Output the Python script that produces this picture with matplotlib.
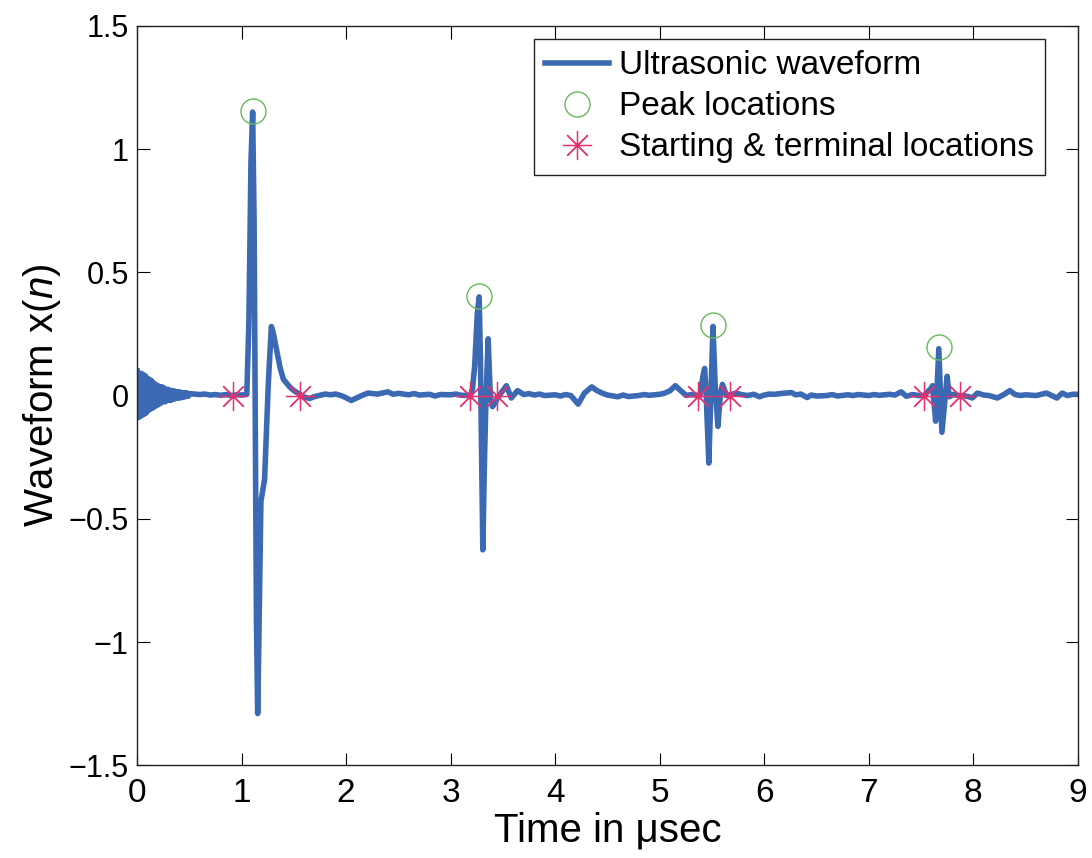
import numpy as np
import matplotlib
matplotlib.use('Agg')
import matplotlib.pyplot as plt

# ringing at the start of the record
ring_t = [0.00, 0.01, 0.02, 0.03, 0.04, 0.05, 0.06, 0.07, 0.08, 0.09,
          0.10, 0.11, 0.12, 0.13, 0.14, 0.15, 0.16, 0.17, 0.18, 0.19,
          0.20, 0.21, 0.22, 0.23, 0.24, 0.25, 0.26, 0.27, 0.28, 0.29,
          0.30, 0.31, 0.32, 0.33, 0.34, 0.35, 0.36, 0.37, 0.38, 0.39,
          0.40, 0.41, 0.42, 0.43, 0.44, 0.45, 0.46, 0.47, 0.48, 0.49, 0.50]
ring_x = [0.10, -0.09, 0.09, -0.085, 0.09, -0.08, 0.085, -0.075, 0.08, -0.07,
          0.07, -0.06, 0.065, -0.055, 0.06, -0.05, 0.05, -0.045, 0.045, -0.04,
          0.04, -0.035, 0.035, -0.03, 0.035, -0.025, 0.03, -0.025, 0.025, -0.02,
          0.025, -0.02, 0.02, -0.018, 0.02, -0.015, 0.018, -0.012, 0.016, -0.01,
          0.015, -0.01, 0.013, -0.008, 0.012, -0.006, 0.011, -0.004, 0.01, -0.003, 0.008]

# rest of the waveform
wave_t = [0.55, 0.60, 0.65, 0.70, 0.75, 0.80, 0.85, 0.90, 0.95, 1.00,
          1.05, 1.07, 1.09, 1.106, 1.12, 1.13, 1.142, 1.154, 1.165, 1.185,
          1.22, 1.256, 1.285, 1.30, 1.335, 1.37, 1.40, 1.46, 1.50, 1.55,
          1.60, 1.65, 1.70, 1.74, 1.80, 1.85, 1.90, 1.95, 1.98, 2.05,
          2.10, 2.15, 2.21, 2.30, 2.40, 2.45, 2.50, 2.60, 2.65, 2.70,
          2.80, 2.85, 2.90, 3.00, 3.05, 3.10, 3.19, 3.21, 3.23, 3.255,
          3.273, 3.285, 3.292, 3.308, 3.322, 3.337, 3.359, 3.372, 3.38, 3.40,
          3.425, 3.45, 3.49, 3.534, 3.58, 3.64, 3.70, 3.75, 3.80, 3.85,
          3.90, 4.00, 4.05, 4.10, 4.15, 4.22, 4.28, 4.35, 4.40, 4.45,
          4.50, 4.60, 4.65, 4.70, 4.80, 4.85, 4.90, 5.00, 5.05, 5.10,
          5.15, 5.20, 5.255, 5.30, 5.385, 5.414, 5.43, 5.445, 5.47, 5.49,
          5.51, 5.53, 5.557, 5.58, 5.60, 5.64, 5.70, 5.73, 5.78, 5.84,
          5.90, 5.955, 6.00, 6.05, 6.10, 6.18, 6.26, 6.30, 6.35, 6.41,
          6.45, 6.50, 6.60, 6.65, 6.70, 6.80, 6.85, 6.90, 7.00, 7.05,
          7.10, 7.20, 7.25, 7.31, 7.36, 7.42, 7.48, 7.53, 7.597, 7.61,
          7.64, 7.67, 7.70, 7.75, 7.77, 7.81, 7.86, 7.90, 7.95, 7.99,
          8.04, 8.10, 8.15, 8.23, 8.30, 8.35, 8.40, 8.45, 8.50, 8.60,
          8.70, 8.75, 8.80, 8.85, 8.90, 8.95, 9.00]
wave_x = [0.006, 0.004, 0.006, 0.002, 0.004, 0.001, 0.004, 0.0, 0.003, 0.002,
          0.005, 0.30, 0.95, 1.15, 0.70, 0.0, -0.90, -1.29, -1.00, -0.43,
          -0.34, 0.05, 0.28, 0.26, 0.185, 0.11, 0.066, 0.035, 0.02, 0.007,
          -0.006, -0.012, -0.004, 0.0, 0.006, 0.003, 0.006, 0.0, -0.005, -0.02,
          -0.01, 0.0, 0.01, 0.006, 0.015, 0.005, 0.009, 0.003, 0.008, 0.002,
          0.005, -0.002, 0.004, 0.003, 0.006, 0.001, 0.0, 0.03, 0.12, 0.33,
          0.40, 0.15, -0.10, -0.626, -0.30, -0.03, 0.23, 0.08, 0.0, -0.045,
          -0.03, -0.01, 0.015, 0.04, -0.01, 0.02, 0.004, 0.008, 0.002, 0.006,
          0.0, 0.003, -0.002, 0.004, 0.0, -0.035, 0.01, 0.035, 0.02, 0.01,
          0.002, -0.005, 0.002, -0.004, 0.0, 0.004, 0.001, 0.005, 0.01, 0.02,
          0.04, 0.02, 0.0, 0.004, 0.0, 0.08, 0.11, 0.0, -0.274, 0.0,
          0.28, 0.05, -0.125, 0.0, 0.045, 0.0, 0.006, 0.01, 0.004, 0.0,
          0.005, -0.005, 0.002, 0.006, 0.005, 0.009, 0.012, 0.003, 0.006, -0.008,
          0.002, -0.002, 0.0, 0.004, -0.002, 0.003, 0.0, 0.004, 0.0, 0.004,
          0.001, 0.005, 0.002, 0.015, -0.003, 0.004, 0.0, 0.0, 0.03, 0.04,
          -0.104, 0.19, -0.149, 0.078, -0.005, 0.005, 0.0, 0.0, -0.004, -0.01,
          0.01, 0.002, 0.0, -0.01, 0.006, 0.02, 0.004, 0.0, 0.003, 0.0,
          0.01, 0.0, -0.01, 0.01, 0.0, 0.005, 0.005]

peak_t = [1.106, 3.273, 5.51, 7.67]
peak_x = [1.155, 0.405, 0.285, 0.195]

edge_t = [0.92, 1.56, 3.19, 3.445, 5.37, 5.67, 7.53, 7.87]
edge_x = [0.0, 0.0, 0.0, 0.0, 0.0, 0.0, 0.0, 0.0]

t = ring_t + wave_t
x = ring_x + wave_x

font = 'Liberation Sans'
plt.rcParams['mathtext.fontset'] = 'custom'
plt.rcParams['mathtext.rm'] = font
plt.rcParams['mathtext.it'] = font + ':italic'

fig = plt.figure(figsize=(10.92, 8.58), dpi=100)
ax = fig.add_axes([0.1255, 0.108, 0.8615, 0.862])

ax.plot(t, x, color='#3b69b3', lw=4.0, solid_joinstyle='round',
        label='Ultrasonic waveform', zorder=2)
ax.plot(peak_t, peak_x, 'o', ms=18, mfc='none', mec='#66bb55', mew=1.0,
        label='Peak locations', zorder=3)
ax.plot(edge_t, edge_x, ls='none', marker=(8, 2, 0), ms=21, color='#e8306e',
        mew=0.9, label='Starting & terminal locations', zorder=3)

ax.set_xlim(0, 9)
ax.set_ylim(-1.5, 1.5)
ax.set_xticks(range(10))
ax.set_yticks([-1.5, -1, -0.5, 0, 0.5, 1, 1.5])
ax.set_yticklabels(['\u22121.5', '\u22121', '\u22120.5', '0', '0.5', '1', '1.5'],
                   family=font, fontsize=22)
ax.set_xticklabels([str(i) for i in range(10)], family=font, fontsize=24)
ax.tick_params(axis='both', direction='in', length=9, width=0.8, top=True, right=True)
ax.tick_params(axis='x', pad=9)
ax.tick_params(axis='y', pad=6)
for s in ax.spines.values():
    s.set_linewidth(1.0)
    s.set_color('#222222')

ax.set_xlabel('Time in \u03bcsec', family=font, fontsize=29, labelpad=2)
ax.set_ylabel('Waveform x($n$)', family=font, fontsize=29, labelpad=4)

leg = ax.legend(loc='upper right', bbox_to_anchor=(0.9655, 0.9825),
                prop={'family': font, 'size': 24},
                frameon=True, fancybox=False, framealpha=1, edgecolor='#222222',
                handlelength=1.9, handletextpad=0.3, labelspacing=0.3,
                borderpad=0.35, borderaxespad=0)
leg.get_frame().set_linewidth(1.0)

fig.savefig('out.png', dpi=100)
